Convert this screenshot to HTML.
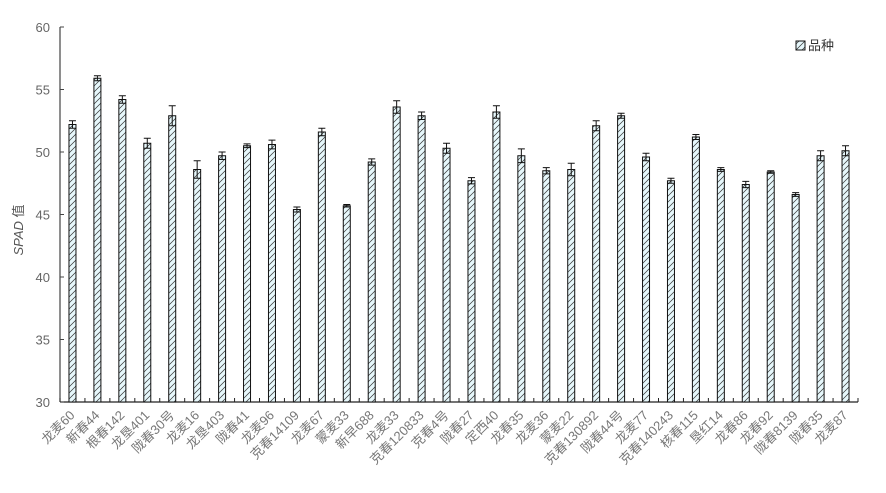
<!DOCTYPE html>
<html><head><meta charset="utf-8"><style>
body{margin:0;background:#fff;}
svg text{font-family:"Liberation Sans","Noto Sans CJK SC",sans-serif;}
</style></head><body>
<svg width="886" height="488">
<defs>
<pattern id="hatch" width="6" height="6" patternUnits="userSpaceOnUse">
<rect width="6" height="6" fill="#e6f7fb"/>
<path d="M0,6 L6,0 M-1,1 L1,-1 M5,7 L7,5" stroke="#333" stroke-width="0.7"/>
</pattern>
</defs>
<g id="g"></g>
</svg>
<script>
const categories=["龙麦60","新春44","根春142","龙垦401","陇春30号","龙麦16","龙垦403","陇春41","龙麦96","克春14109","龙麦67","蒙麦33","新早688","龙麦33","克春120833","克春4号","陇春27","定西40","龙春35","龙麦36","蒙麦22","克春130892","陇春44号","龙麦77","克春140243","核春115","垦红14","龙春86","龙春92","陇春8139","陇春35","龙麦87"];
const values=[52.2,55.9,54.2,50.7,52.9,48.6,49.7,50.5,50.6,45.4,51.6,45.7,49.2,53.6,52.9,50.3,47.7,53.2,49.7,48.5,48.6,52.1,52.9,49.6,47.7,51.2,48.6,47.4,48.4,46.6,49.7,50.1];
const errors=[0.3,0.2,0.3,0.4,0.8,0.7,0.3,0.15,0.35,0.2,0.3,0.1,0.25,0.5,0.3,0.4,0.25,0.5,0.55,0.25,0.5,0.4,0.2,0.3,0.2,0.2,0.15,0.25,0.1,0.15,0.4,0.4];
const yTicks=[30,35,40,45,50,55,60];
const NS="http://www.w3.org/2000/svg";
const g=document.getElementById('g');
const x0=60,x1=858,yTop=27,yBot=402,ymin=30,ymax=60;
const bw=(x1-x0)/categories.length;
const Y=v=>yBot-(v-ymin)/(ymax-ymin)*(yBot-yTop);
const X=i=>x0+bw*(i+0.5);
function mk(t,a){const e=document.createElementNS(NS,t);for(const k in a)e.setAttribute(k,a[k]);g.appendChild(e);return e;}
let ax=mk('line',{x1:x0,y1:yTop,x2:x0,y2:yBot,stroke:'#444','stroke-width':1.2});


let bx=mk('line',{x1:x0,y1:yBot,x2:x1,y2:yBot,stroke:'#222','stroke-width':1.2});


yTicks.forEach(v=>{
 const t=mk('line',{x1:x0,y1:Y(v),x2:x0+4,y2:Y(v),stroke:'#444'});
 
 
 const l=mk('text',{x:x0-10,y:Y(v)+5,'text-anchor':'end','font-size':13,fill:'#666'});
 l.textContent=v;
 
 
});
for(let i=0;i<=categories.length;i++){
 const t=mk('line',{x1:x0+bw*i,y1:yBot,x2:x0+bw*i,y2:yBot-4,stroke:'#222'});
 
 
}
categories.forEach((c,i)=>{
 const cx=X(i),w=7;
 const r=mk('rect',{x:cx-w/2,y:Y(values[i]),width:w,height:yBot-Y(values[i]),fill:'url(#hatch)',stroke:'#111','stroke-width':1});
 
 
 const e1=Y(values[i]+errors[i]),e2=Y(values[i]-errors[i]);
 const eb=mk('path',{d:`M${cx},${e1}V${e2}M${cx-3.5},${e1}H${cx+3.5}M${cx-3.5},${e2}H${cx+3.5}`,stroke:'#111',fill:'none','stroke-width':1});
 
 
 const l=mk('text',{x:cx+3,y:yBot+14,'text-anchor':'end','font-size':13,fill:'#777',transform:`rotate(-45 ${cx+3} ${yBot+14})`});
 l.textContent=c;
 
 
});
const yt=mk('text',{x:0,y:0,'text-anchor':'middle','font-size':13,fill:'#555',transform:'translate(23,230) rotate(-90)'});
yt.innerHTML='<tspan font-style="italic">SPAD</tspan> 值';


const lr=mk('rect',{x:796,y:41,width:9,height:9,fill:'url(#hatch)',stroke:'#111'});


const lt=mk('text',{x:808,y:50,'font-size':13,fill:'#333'});
lt.textContent='品种';


</script>
</body></html>
